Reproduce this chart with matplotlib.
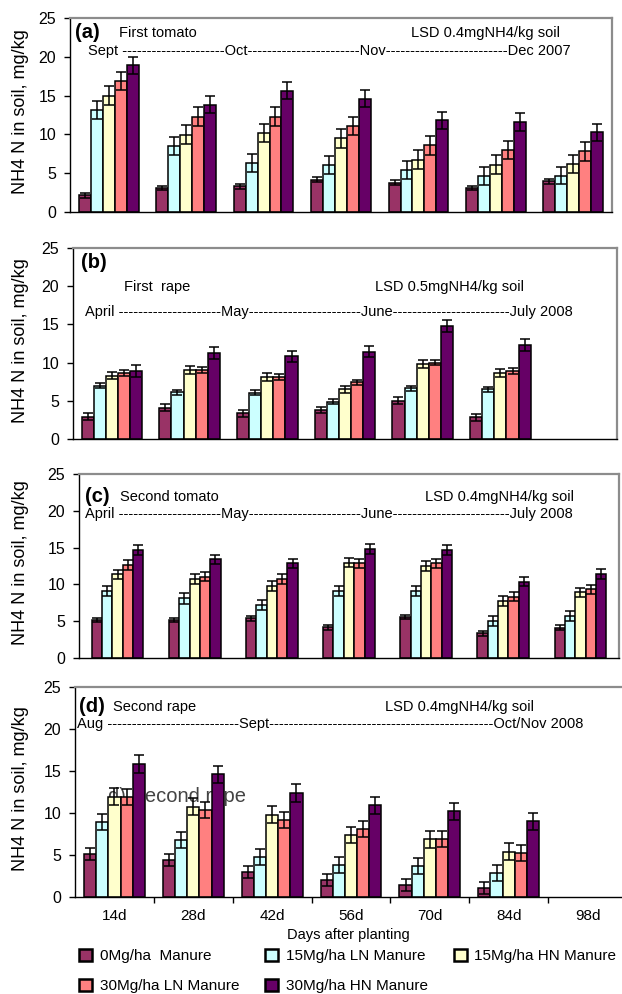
import matplotlib
matplotlib.use('Agg')
import matplotlib.pyplot as plt
from matplotlib.patches import Patch
import numpy as np

plt.rcParams['font.family'] = ['Liberation Sans', 'DejaVu Sans']

# ---- data (mg NH4-N / kg soil) ----
days = ['14d', '28d', '42d', '56d', '70d', '84d', '98d']
treatments = ['0Mg/ha  Manure', '15Mg/ha LN Manure', '15Mg/ha HN Manure',
              '30Mg/ha LN Manure', '30Mg/ha HN Manure']

# (a) first tomato
tomato1_0mg = [2.15, 3.1, 3.3, 4.17, 3.8, 3.1, 3.95]
tomato1_ln15 = [13.1, 8.55, 6.3, 6.1, 5.45, 4.6, 4.7]
tomato1_hn15 = [15.0, 9.97, 10.2, 9.5, 6.74, 6.1, 6.2]
tomato1_ln30 = [16.9, 12.3, 12.3, 11.1, 8.6, 8.0, 7.8]
tomato1_hn30 = [18.9, 13.8, 15.6, 14.6, 11.8, 11.6, 10.3]
tomato1_err = [0.3, 1.15, 1.2, 1.2, 1.1]

# (b) first rape (no 98d sample)
rape1_0mg = [2.93, 4.1, 3.37, 3.8, 5.0, 2.84]
rape1_ln15 = [6.95, 6.1, 6.07, 4.9, 6.64, 6.5]
rape1_hn15 = [8.3, 9.05, 8.1, 6.5, 9.8, 8.6]
rape1_ln30 = [8.6, 9.05, 8.1, 7.4, 10.0, 8.9]
rape1_hn30 = [8.96, 11.2, 10.8, 11.45, 14.8, 12.3]
rape1_err = [0.45, 0.33, 0.5, 0.37, 0.78]

# (c) second tomato
tomato2_0mg = [5.16, 5.16, 5.4, 4.17, 5.57, 3.35, 4.12]
tomato2_ln15 = [9.1, 8.1, 7.2, 9.15, 9.1, 5.07, 5.75]
tomato2_hn15 = [11.37, 10.73, 9.8, 12.95, 12.5, 7.74, 8.92]
tomato2_ln30 = [12.6, 11.05, 10.73, 12.86, 12.86, 8.33, 9.33]
tomato2_hn30 = [14.67, 13.4, 12.86, 14.8, 14.67, 10.37, 11.41]
tomato2_err = [0.33, 0.7, 0.65, 0.65, 0.65]

# (d) second rape (no 98d sample)
rape2_0mg = [5.13, 4.41, 2.94, 1.99, 1.39, 1.11]
rape2_ln15 = [8.9, 6.8, 4.8, 3.8, 3.7, 2.82]
rape2_hn15 = [11.96, 10.73, 9.78, 7.39, 6.88, 5.4]
rape2_ln30 = [11.96, 10.37, 9.18, 8.1, 6.96, 5.2]
rape2_hn30 = [15.8, 14.6, 12.4, 10.9, 10.2, 9.0]
rape2_err = [0.7, 0.95, 1.0, 0.95, 1.05]

colors = ['#993366', '#CCFFFF', '#FFFFCC', '#FF8080', '#660066']

W, H = 622, 994


def fx(px):
    return px / W


def fy(py):
    return 1 - py / H


def make_axes(fig, box):
    l, t, r, b = box
    return fig.add_axes([l / W, 1 - b / H, (r - l) / W, (b - t) / H])


def draw_panel(ax, series, errors, group_frac):
    """
    Clustered bars with symmetric error bars, Excel look.
    """
    w = group_frac / len(series)
    for j, (vals, err, col) in enumerate(zip(series, errors, colors)):
        x = np.arange(len(vals)) + (j - 2) * w
        ax.bar(x, vals, w, color=col, edgecolor='black', linewidth=1.1, zorder=2,
               yerr=err, error_kw=dict(ecolor='black', elinewidth=1.1, capsize=3.5,
                                       capthick=1.1, zorder=3))
    ax.set_xlim(-0.5, 6.5)
    ax.set_ylim(0, 25)
    ax.set_yticks(range(0, 26, 5))
    ax.tick_params(axis='y', direction='out', length=4, width=1, pad=6,
                   labelsize=11.5, colors='black')
    for s in ['left', 'bottom']:
        ax.spines[s].set_color('black')
        ax.spines[s].set_linewidth(1.0)
    for s in ['top', 'right']:
        ax.spines[s].set_color('#8c8c8c')
        ax.spines[s].set_linewidth(1.6)


def panel_texts(fig, tag, tag_xy, crop, crop_xy, lsd, lsd_xy, months, months_xy):
    fig.text(fx(tag_xy[0]), fy(tag_xy[1]), tag, fontsize=14.5, fontweight='bold', va='center')
    fig.text(fx(crop_xy[0]), fy(crop_xy[1]), crop, fontsize=10.5, va='center')
    fig.text(fx(lsd_xy[0]), fy(lsd_xy[1]), lsd, fontsize=10.5, va='center')
    fig.text(fx(months_xy[0]), fy(months_xy[1]), months, fontsize=10.5, va='center')


def main():
    fig = plt.figure(figsize=(W / 100, H / 100), dpi=100)

    boxes = [(70, 18, 612, 212), (73, 248, 617, 439), (79, 474, 619, 658), (75, 687, 627, 897)]
    data = [
        ([tomato1_0mg, tomato1_ln15, tomato1_hn15, tomato1_ln30, tomato1_hn30], tomato1_err, 0.77),
        ([rape1_0mg, rape1_ln15, rape1_hn15, rape1_ln30, rape1_hn30], rape1_err, 0.78),
        ([tomato2_0mg, tomato2_ln15, tomato2_hn15, tomato2_ln30, tomato2_hn30], tomato2_err, 0.67),
        ([rape2_0mg, rape2_ln15, rape2_hn15, rape2_ln30, rape2_hn30], rape2_err, 0.77),
    ]

    axes = []
    for box, (series, err, frac) in zip(boxes, data):
        ax = make_axes(fig, box)
        draw_panel(ax, series, err, frac)
        fig.text(fx(21), fy((box[1] + box[3]) / 2 - 3), 'NH4 N in soil, mg/kg',
                 rotation=90, ha='center', va='center', fontsize=13)
        axes.append(ax)

    for ax in axes[:3]:
        ax.set_xticks([])

    # bottom panel carries the day labels, ticks sit between the groups
    ax = axes[3]
    ax.set_xticks(range(len(days)))
    ax.set_xticklabels(days, fontsize=11)
    ax.tick_params(axis='x', which='major', length=0, pad=9)
    ax.set_xticks(np.arange(0.5, 7, 1), minor=True)
    ax.tick_params(axis='x', which='minor', length=4, width=1, direction='out', color='black')
    # stray label left behind the bars in the original
    ax.text(fx(108), fy(797), 'd) Second rape', transform=fig.transFigure,
            fontsize=14.5, color='#444444', va='center', zorder=1)

    panel_texts(fig, '(a)', (75, 33), 'First tomato', (119, 33),
                'LSD 0.4mgNH4/kg soil', (411, 33),
                'Sept ' + '-' * 21 + 'Oct' + '-' * 23 + 'Nov' + '-' * 25 + 'Dec 2007', (88, 51))
    panel_texts(fig, '(b)', (81, 263), 'First  rape', (124, 287),
                'LSD 0.5mgNH4/kg soil', (375, 287),
                'April ' + '-' * 21 + 'May' + '-' * 23 + 'June' + '-' * 24 + 'July 2008', (85, 312))
    panel_texts(fig, '(c)', (85, 497), 'Second tomato', (120, 497),
                'LSD 0.4mgNH4/kg soil', (425, 497),
                'April ' + '-' * 21 + 'May' + '-' * 23 + 'June' + '-' * 24 + 'July 2008', (85, 514))
    panel_texts(fig, '(d)', (79, 707), 'Second rape', (113, 707),
                'LSD 0.4mgNH4/kg soil', (385, 707),
                'Aug ' + '-' * 27 + 'Sept' + '-' * 46 + 'Oct/Nov 2008', (77, 724))

    fig.text(fx(348), fy(935), 'Days after planting', ha='center', va='center', fontsize=10.5)

    handles = [Patch(facecolor=c, edgecolor='black', linewidth=1.8) for c in colors]
    order = [0, 3, 1, 4, 2]  # legend fills column-wise
    fig.legend([handles[i] for i in order], [treatments[i] for i in order],
               ncol=3, loc='upper left', bbox_to_anchor=(fx(79), fy(949)),
               frameon=False, fontsize=11, handlelength=0.85, handleheight=0.85,
               handletextpad=0.5, columnspacing=1.7, labelspacing=1.0,
               borderpad=0, borderaxespad=0)

    fig.savefig('out.png', dpi=100)


if __name__ == "__main__":
    main()
